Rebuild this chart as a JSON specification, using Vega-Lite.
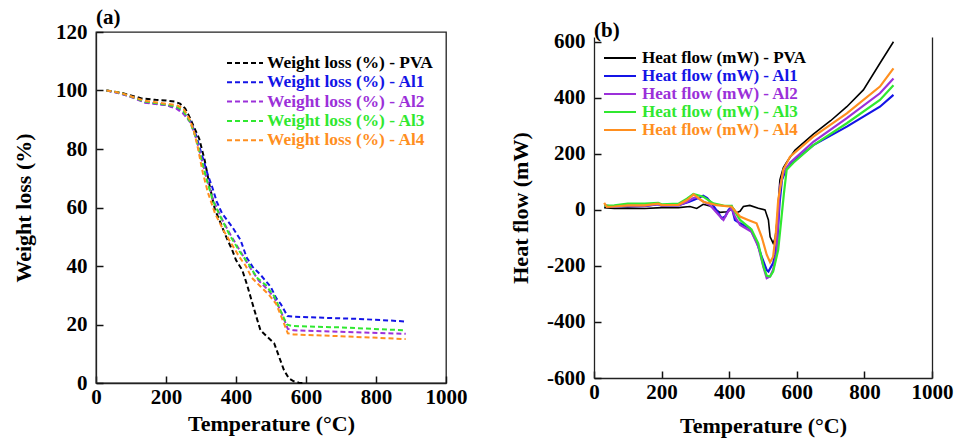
{
  "$schema": "https://vega.github.io/schema/vega-lite/v6.json",
  "padding": {"left": 11, "top": 6, "right": 5, "bottom": 5},
  "bounds": "flush",
  "center": true,
  "spacing": 148,
  "config": {
    "font": "Liberation Serif",
    "view": {"stroke": "#222", "strokeWidth": 1.3},
    "axis": {
      "grid": false,
      "zindex": 1,
      "domainColor": "#222",
      "domainWidth": 1.3,
      "ticks": true,
      "tickColor": "#111",
      "tickWidth": 1.5,
      "tickSize": -7,
      "labelPadding": 10,
      "labelFont": "Liberation Serif",
      "labelFontSize": 21,
      "labelFontWeight": "bold",
      "labelColor": "#000",
      "labelFlush": false,
      "labelOverlap": false,
      "titleFont": "Liberation Serif",
      "titleFontSize": 22,
      "titleFontWeight": "bold",
      "titleColor": "#000"
    },
    "axisY": {"labelPadding": 16},
    "legend": {
      "labelFont": "Liberation Serif",
      "labelFontSize": 17,
      "labelFontWeight": "bold",
      "labelLimit": 400,
      "title": null
    },
    "title": {"font": "Liberation Serif", "fontSize": 21, "fontWeight": "bold", "color": "#000", "anchor": "start", "frame": "group"}
  },
  "datasets": {
    "tga": [
      {"s":"PVA","t":30,"v":100},{"s":"PVA","t":70,"v":99.3},{"s":"PVA","t":110,"v":98},{"s":"PVA","t":130,"v":97.3},{"s":"PVA","t":170,"v":96.8},{"s":"PVA","t":200,"v":96.6},{"s":"PVA","t":225,"v":96.2},{"s":"PVA","t":240,"v":95.5},{"s":"PVA","t":255,"v":93.8},{"s":"PVA","t":265,"v":91.5},{"s":"PVA","t":280,"v":87.5},{"s":"PVA","t":295,"v":83.5},{"s":"PVA","t":310,"v":76.4},{"s":"PVA","t":325,"v":67.3},{"s":"PVA","t":340,"v":59.2},{"s":"PVA","t":355,"v":55},{"s":"PVA","t":370,"v":50.5},{"s":"PVA","t":389,"v":45.5},{"s":"PVA","t":400,"v":42},{"s":"PVA","t":418,"v":38.6},{"s":"PVA","t":433,"v":33},{"s":"PVA","t":447,"v":27.2},{"s":"PVA","t":461,"v":21.5},{"s":"PVA","t":470,"v":18},{"s":"PVA","t":489,"v":15.8},{"s":"PVA","t":509,"v":13.6},{"s":"PVA","t":523,"v":9},{"s":"PVA","t":537,"v":4.4},{"s":"PVA","t":551,"v":1.6},{"s":"PVA","t":565,"v":0.6},{"s":"PVA","t":580,"v":0.1},{"s":"PVA","t":595,"v":0},
      {"s":"Al1","t":30,"v":100},{"s":"Al1","t":70,"v":99},{"s":"Al1","t":110,"v":97.5},{"s":"Al1","t":140,"v":96},{"s":"Al1","t":170,"v":95.5},{"s":"Al1","t":200,"v":95},{"s":"Al1","t":230,"v":94},{"s":"Al1","t":250,"v":92.5},{"s":"Al1","t":270,"v":89.5},{"s":"Al1","t":285,"v":85},{"s":"Al1","t":300,"v":79},{"s":"Al1","t":320,"v":71},{"s":"Al1","t":332,"v":67},{"s":"Al1","t":345,"v":62},{"s":"Al1","t":360,"v":58},{"s":"Al1","t":389,"v":53.4},{"s":"Al1","t":413,"v":48.9},{"s":"Al1","t":430,"v":43},{"s":"Al1","t":447,"v":39.8},{"s":"Al1","t":470,"v":37},{"s":"Al1","t":499,"v":32.9},{"s":"Al1","t":515,"v":29},{"s":"Al1","t":528,"v":27},{"s":"Al1","t":547,"v":22.9},{"s":"Al1","t":560,"v":22.7},{"s":"Al1","t":650,"v":22.3},{"s":"Al1","t":750,"v":21.9},{"s":"Al1","t":850,"v":21.3},{"s":"Al1","t":885,"v":21},
      {"s":"Al2","t":30,"v":100},{"s":"Al2","t":70,"v":99},{"s":"Al2","t":110,"v":97.3},{"s":"Al2","t":140,"v":95.8},{"s":"Al2","t":170,"v":95.4},{"s":"Al2","t":200,"v":95},{"s":"Al2","t":230,"v":93.8},{"s":"Al2","t":250,"v":92},{"s":"Al2","t":270,"v":89},{"s":"Al2","t":285,"v":84},{"s":"Al2","t":300,"v":77.5},{"s":"Al2","t":315,"v":70.5},{"s":"Al2","t":335,"v":62.5},{"s":"Al2","t":360,"v":56},{"s":"Al2","t":385,"v":50.5},{"s":"Al2","t":410,"v":45.5},{"s":"Al2","t":440,"v":39.5},{"s":"Al2","t":465,"v":35},{"s":"Al2","t":490,"v":32},{"s":"Al2","t":510,"v":29},{"s":"Al2","t":530,"v":24},{"s":"Al2","t":548,"v":18.5},{"s":"Al2","t":565,"v":18},{"s":"Al2","t":700,"v":17.5},{"s":"Al2","t":885,"v":16.8},
      {"s":"Al3","t":30,"v":100},{"s":"Al3","t":70,"v":99.2},{"s":"Al3","t":110,"v":97.5},{"s":"Al3","t":140,"v":96.2},{"s":"Al3","t":170,"v":95.7},{"s":"Al3","t":200,"v":95.2},{"s":"Al3","t":230,"v":94.5},{"s":"Al3","t":250,"v":93},{"s":"Al3","t":270,"v":89},{"s":"Al3","t":285,"v":84},{"s":"Al3","t":300,"v":77},{"s":"Al3","t":315,"v":70},{"s":"Al3","t":335,"v":62},{"s":"Al3","t":355,"v":57},{"s":"Al3","t":380,"v":51},{"s":"Al3","t":410,"v":45},{"s":"Al3","t":437,"v":40.5},{"s":"Al3","t":460,"v":36},{"s":"Al3","t":485,"v":33.5},{"s":"Al3","t":510,"v":29.5},{"s":"Al3","t":530,"v":24},{"s":"Al3","t":545,"v":20},{"s":"Al3","t":560,"v":19.5},{"s":"Al3","t":700,"v":19},{"s":"Al3","t":885,"v":18},
      {"s":"Al4","t":30,"v":100},{"s":"Al4","t":70,"v":99.2},{"s":"Al4","t":110,"v":97.6},{"s":"Al4","t":140,"v":96.5},{"s":"Al4","t":170,"v":96},{"s":"Al4","t":200,"v":95.5},{"s":"Al4","t":230,"v":95},{"s":"Al4","t":250,"v":93.8},{"s":"Al4","t":268,"v":90},{"s":"Al4","t":280,"v":86},{"s":"Al4","t":290,"v":81},{"s":"Al4","t":305,"v":72},{"s":"Al4","t":320,"v":65},{"s":"Al4","t":340,"v":58},{"s":"Al4","t":365,"v":52},{"s":"Al4","t":390,"v":47},{"s":"Al4","t":410,"v":43},{"s":"Al4","t":428,"v":40},{"s":"Al4","t":445,"v":36},{"s":"Al4","t":470,"v":33},{"s":"Al4","t":495,"v":30},{"s":"Al4","t":515,"v":27},{"s":"Al4","t":535,"v":21},{"s":"Al4","t":548,"v":17},{"s":"Al4","t":565,"v":16.6},{"s":"Al4","t":700,"v":16},{"s":"Al4","t":885,"v":15}
    ],
    "dsc": [
      {"s":"PVA","t":30,"v":8},{"s":"PVA","t":60,"v":5},{"s":"PVA","t":100,"v":6},{"s":"PVA","t":150,"v":5},{"s":"PVA","t":200,"v":8},{"s":"PVA","t":250,"v":8},{"s":"PVA","t":284,"v":12},{"s":"PVA","t":304,"v":5},{"s":"PVA","t":323,"v":20},{"s":"PVA","t":343,"v":14},{"s":"PVA","t":373,"v":-9},{"s":"PVA","t":393,"v":-7},{"s":"PVA","t":412,"v":5},{"s":"PVA","t":422,"v":-10},{"s":"PVA","t":432,"v":-5},{"s":"PVA","t":442,"v":12},{"s":"PVA","t":461,"v":16},{"s":"PVA","t":486,"v":6},{"s":"PVA","t":506,"v":0},{"s":"PVA","t":516,"v":-36},{"s":"PVA","t":521,"v":-96},{"s":"PVA","t":530,"v":-119},{"s":"PVA","t":536,"v":-101},{"s":"PVA","t":542,"v":-36},{"s":"PVA","t":550,"v":107},{"s":"PVA","t":560,"v":150},{"s":"PVA","t":570,"v":170},{"s":"PVA","t":595,"v":213},{"s":"PVA","t":649,"v":270},{"s":"PVA","t":700,"v":318},{"s":"PVA","t":748,"v":368},{"s":"PVA","t":797,"v":428},{"s":"PVA","t":846,"v":523},{"s":"PVA","t":886,"v":600},
      {"s":"Al1","t":30,"v":15},{"s":"Al1","t":60,"v":12},{"s":"Al1","t":100,"v":14},{"s":"Al1","t":150,"v":13},{"s":"Al1","t":190,"v":20},{"s":"Al1","t":200,"v":15},{"s":"Al1","t":250,"v":17},{"s":"Al1","t":280,"v":28},{"s":"Al1","t":300,"v":38},{"s":"Al1","t":323,"v":50},{"s":"Al1","t":335,"v":42},{"s":"Al1","t":353,"v":15},{"s":"Al1","t":370,"v":-15},{"s":"Al1","t":378,"v":-30},{"s":"Al1","t":388,"v":-24},{"s":"Al1","t":398,"v":0},{"s":"Al1","t":407,"v":11},{"s":"Al1","t":417,"v":-36},{"s":"Al1","t":432,"v":-48},{"s":"Al1","t":461,"v":-66},{"s":"Al1","t":481,"v":-113},{"s":"Al1","t":496,"v":-167},{"s":"Al1","t":511,"v":-215},{"s":"Al1","t":516,"v":-220},{"s":"Al1","t":521,"v":-209},{"s":"Al1","t":530,"v":-190},{"s":"Al1","t":536,"v":-160},{"s":"Al1","t":543,"v":-96},{"s":"Al1","t":549,"v":23},{"s":"Al1","t":556,"v":107},{"s":"Al1","t":570,"v":150},{"s":"Al1","t":590,"v":172},{"s":"Al1","t":649,"v":231},{"s":"Al1","t":748,"v":297},{"s":"Al1","t":846,"v":368},{"s":"Al1","t":886,"v":410},
      {"s":"Al2","t":30,"v":15},{"s":"Al2","t":60,"v":12},{"s":"Al2","t":100,"v":15},{"s":"Al2","t":150,"v":14},{"s":"Al2","t":190,"v":20},{"s":"Al2","t":200,"v":16},{"s":"Al2","t":250,"v":16},{"s":"Al2","t":275,"v":28},{"s":"Al2","t":294,"v":42},{"s":"Al2","t":304,"v":45},{"s":"Al2","t":320,"v":32},{"s":"Al2","t":343,"v":17},{"s":"Al2","t":373,"v":-24},{"s":"Al2","t":383,"v":-36},{"s":"Al2","t":397,"v":-6},{"s":"Al2","t":407,"v":6},{"s":"Al2","t":417,"v":-24},{"s":"Al2","t":432,"v":-54},{"s":"Al2","t":466,"v":-78},{"s":"Al2","t":486,"v":-131},{"s":"Al2","t":501,"v":-203},{"s":"Al2","t":511,"v":-244},{"s":"Al2","t":521,"v":-238},{"s":"Al2","t":530,"v":-214},{"s":"Al2","t":540,"v":-155},{"s":"Al2","t":545,"v":-36},{"s":"Al2","t":550,"v":83},{"s":"Al2","t":560,"v":130},{"s":"Al2","t":580,"v":168},{"s":"Al2","t":649,"v":243},{"s":"Al2","t":748,"v":327},{"s":"Al2","t":846,"v":416},{"s":"Al2","t":886,"v":469},
      {"s":"Al3","t":30,"v":15},{"s":"Al3","t":60,"v":16},{"s":"Al3","t":100,"v":22},{"s":"Al3","t":150,"v":22},{"s":"Al3","t":190,"v":25},{"s":"Al3","t":200,"v":20},{"s":"Al3","t":250,"v":22},{"s":"Al3","t":275,"v":40},{"s":"Al3","t":294,"v":57},{"s":"Al3","t":323,"v":47},{"s":"Al3","t":353,"v":23},{"s":"Al3","t":383,"v":15},{"s":"Al3","t":407,"v":14},{"s":"Al3","t":432,"v":-36},{"s":"Al3","t":466,"v":-70},{"s":"Al3","t":486,"v":-120},{"s":"Al3","t":501,"v":-200},{"s":"Al3","t":511,"v":-235},{"s":"Al3","t":521,"v":-238},{"s":"Al3","t":530,"v":-220},{"s":"Al3","t":545,"v":-143},{"s":"Al3","t":555,"v":-24},{"s":"Al3","t":562,"v":60},{"s":"Al3","t":570,"v":143},{"s":"Al3","t":590,"v":168},{"s":"Al3","t":649,"v":231},{"s":"Al3","t":748,"v":309},{"s":"Al3","t":846,"v":392},{"s":"Al3","t":886,"v":445},
      {"s":"Al4","t":30,"v":25},{"s":"Al4","t":38,"v":11},{"s":"Al4","t":60,"v":12},{"s":"Al4","t":100,"v":16},{"s":"Al4","t":150,"v":16},{"s":"Al4","t":190,"v":22},{"s":"Al4","t":200,"v":17},{"s":"Al4","t":250,"v":18},{"s":"Al4","t":275,"v":35},{"s":"Al4","t":295,"v":55},{"s":"Al4","t":323,"v":29},{"s":"Al4","t":363,"v":17},{"s":"Al4","t":407,"v":11},{"s":"Al4","t":432,"v":-24},{"s":"Al4","t":456,"v":-36},{"s":"Al4","t":481,"v":-48},{"s":"Al4","t":496,"v":-96},{"s":"Al4","t":511,"v":-160},{"s":"Al4","t":521,"v":-187},{"s":"Al4","t":530,"v":-167},{"s":"Al4","t":538,"v":-84},{"s":"Al4","t":545,"v":36},{"s":"Al4","t":560,"v":143},{"s":"Al4","t":580,"v":190},{"s":"Al4","t":649,"v":261},{"s":"Al4","t":748,"v":344},{"s":"Al4","t":846,"v":440},{"s":"Al4","t":886,"v":505}
    ]
  },
  "resolve": {"scale": {"color": "independent"}, "legend": {"color": "independent"}},
  "hconcat": [
    {
      "width": 350,
      "height": 351,
      "title": {"text": "(a)", "offset": -7},
      "data": {"name": "tga"},
      "mark": {"type": "line", "strokeWidth": 2, "strokeDash": [5, 3]},
      "encoding": {
        "x": {"field": "t", "type": "quantitative", "scale": {"domain": [0, 1000], "nice": false},
              "axis": {"values": [0, 200, 400, 600, 800, 1000], "format": "d", "title": "Temperature (°C)", "titlePadding": 6}},
        "y": {"field": "v", "type": "quantitative", "scale": {"domain": [0, 120], "nice": false},
              "axis": {"values": [0, 20, 40, 60, 80, 100, 120], "title": "Weight loss (%)", "titlePadding": 20}},
        "color": {"field": "s", "type": "nominal",
                  "scale": {"domain": ["PVA", "Al1", "Al2", "Al3", "Al4"], "range": ["#000000", "#1414e6", "#9b30d9", "#30e830", "#ff8f1f"]},
                  "legend": {"orient": "none", "legendX": 139, "legendY": 21, "symbolType": "M-2,0H2", "symbolSize": 324,
                             "symbolStrokeWidth": 2, "symbolDash": [5, 3], "labelOffset": 12, "rowPadding": 0.3,
                             "labelFontSize": 17.4,
                             "labelExpr": "'Weight loss (%) - ' + datum.label",
                             "labelColor": {"expr": "datum.value == 'PVA' ? '#000000' : datum.value == 'Al1' ? '#1414e6' : datum.value == 'Al2' ? '#9b30d9' : datum.value == 'Al3' ? '#30e830' : '#ff8f1f'"}}}
      }
    },
    {
      "width": 338,
      "height": 341,
      "view": {"stroke": null},
      "title": {"text": "(b)", "offset": -10},
      "data": {"name": "dsc"},
      "encoding": {
        "x": {"field": "t", "type": "quantitative", "scale": {"domain": [0, 1000], "nice": false},
              "axis": {"values": [0, 200, 400, 600, 800, 1000], "format": "d", "title": "Temperature (°C)", "titlePadding": 13}},
        "color": {"field": "s", "type": "nominal",
                  "scale": {"domain": ["PVA", "Al1", "Al2", "Al3", "Al4"], "range": ["#000000", "#1414e6", "#9b30d9", "#30e830", "#ff8f1f"]},
                  "legend": {"orient": "none", "legendX": 17, "legendY": 12, "symbolType": "M-2,0H2", "symbolSize": 256,
                             "symbolStrokeWidth": 2, "labelOffset": 13, "rowPadding": 1,
                             "labelExpr": "'Heat flow (mW) - ' + datum.label",
                             "labelColor": {"expr": "datum.value == 'PVA' ? '#000000' : datum.value == 'Al1' ? '#1414e6' : datum.value == 'Al2' ? '#9b30d9' : datum.value == 'Al3' ? '#30e830' : '#ff8f1f'"}}}
      },
      "layer": [
        {
          "transform": [{"filter": "datum.s == 'PVA'"}],
          "mark": {"type": "line", "strokeWidth": 1.6},
          "encoding": {
            "y": {"field": "v", "type": "quantitative", "scale": {"domain": [-600, 616.8], "nice": false},
                  "axis": {"values": [-600, -400, -200, 0, 200, 400, 600], "title": "Heat flow (mW)", "titlePadding": 14,
                           "labelExpr": "'' + datum.value"}}
          }
        },
        {
          "transform": [{"filter": "datum.s != 'PVA'"}],
          "mark": {"type": "line", "strokeWidth": 2.2},
          "encoding": {
            "y": {"field": "v", "type": "quantitative", "scale": {"domain": [-600, 616.8], "nice": false},
                  "axis": {"orient": "right", "labels": false, "ticks": false, "title": null, "domain": true}}
          }
        }
      ],
      "resolve": {"scale": {"y": "independent"}, "axis": {"y": "independent"}}
    }
  ]
}
